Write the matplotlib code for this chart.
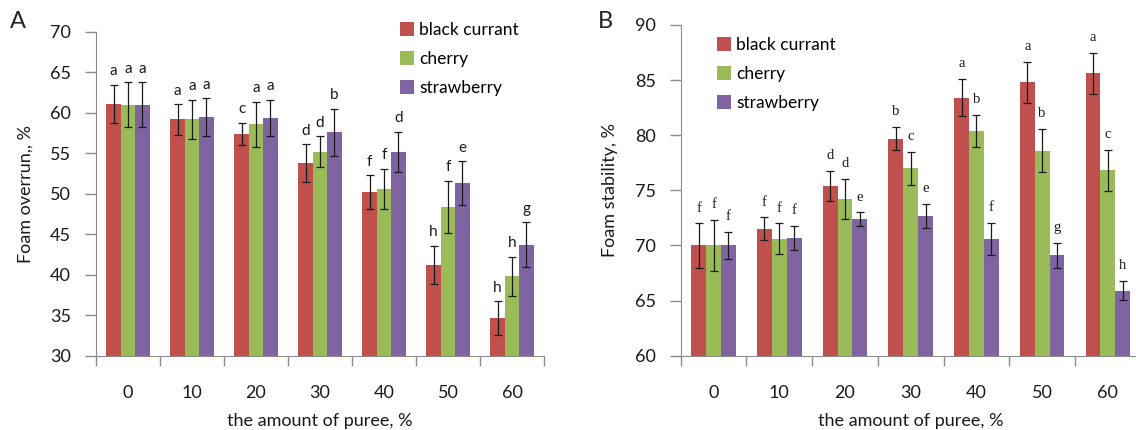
import matplotlib
matplotlib.use("Agg")
import matplotlib.pyplot as plt
import numpy as np

plt.rcParams['font.family'] = ['Lato', 'DejaVu Sans']

# data
puree = ["0", "10", "20", "30", "40", "50", "60"]
fruits = ["black currant", "cherry", "strawberry"]
colors = ["#C0504D", "#9BBB59", "#8064A2"]

# panel A: foam overrun, %
overrun_bc = [61.1, 59.2, 57.4, 53.8, 50.2, 41.2, 34.6]
overrun_ch = [61.0, 59.2, 58.6, 55.2, 50.6, 48.4, 39.8]
overrun_st = [61.0, 59.5, 59.4, 57.6, 55.2, 51.3, 43.7]
overrun_bc_err = [2.4, 1.9, 1.4, 2.3, 2.1, 2.4, 2.1]
overrun_ch_err = [2.8, 2.4, 2.8, 1.9, 2.5, 3.2, 2.4]
overrun_st_err = [2.8, 2.3, 2.2, 2.9, 2.5, 2.7, 2.8]
overrun_bc_lab = ["a", "a", "c", "d", "f", "h", "h"]
overrun_ch_lab = ["a", "a", "a", "d", "f", "f", "h"]
overrun_st_lab = ["a", "a", "a", "b", "d", "e", "g"]

# panel B: foam stability, %
stab_bc = [70.0, 71.5, 75.4, 79.7, 83.4, 84.8, 85.6]
stab_ch = [70.0, 70.6, 74.2, 77.0, 80.4, 78.6, 76.8]
stab_st = [70.0, 70.7, 72.4, 72.7, 70.6, 69.1, 65.9]
stab_bc_err = [2.0, 1.05, 1.35, 1.05, 1.7, 1.85, 1.85]
stab_ch_err = [2.3, 1.4, 1.8, 1.5, 1.45, 1.95, 1.9]
stab_st_err = [1.2, 1.1, 0.6, 1.1, 1.45, 1.1, 0.85]
stab_bc_lab = ["f", "f", "d", "b", "a", "a", "a"]
stab_ch_lab = ["f", "f", "d", "c", "b", "b", "c"]
stab_st_lab = ["f", "f", "e", "e", "f", "g", "h"]

fig = plt.figure(figsize=(11.36, 4.30), dpi=100)
axA = fig.add_axes([0.0845, 0.1728, 0.3944, 0.7528])
axB = fig.add_axes([0.5992, 0.1728, 0.4049, 0.7691])

w = 0.226
x = np.arange(len(puree))


def draw(ax, vals, errs, labs, ylim, ystep, ylabel, lab_off, lab_font, legend_anchor):
    for i in range(3):
        ax.bar(x + (i - 1) * w, vals[i], w, color=colors[i], label=fruits[i],
               yerr=errs[i], capsize=3.2, ecolor="#1a1a1a",
               error_kw=dict(elinewidth=0.9, capthick=0.9), zorder=2)
        for xi, v, e, t in zip(x + (i - 1) * w, vals[i], errs[i], labs[i]):
            ax.text(xi, v + e + lab_off, t, ha="center", va="bottom",
                    fontsize=lab_font[1], family=lab_font[0], color="#1a1a1a")
    ax.set_xlim(-0.5, len(puree) - 0.5)
    ax.set_ylim(*ylim)
    ax.set_yticks(np.arange(ylim[0], ylim[1] + 0.1, ystep))
    ax.set_xticks(x)
    ax.set_xticklabels(puree)
    ax.set_xticks(np.arange(-0.5, len(puree), 1.0), minor=True)
    ax.tick_params(axis="x", which="major", length=0, pad=21, labelsize=13, labelcolor="#1a1a1a")
    ax.tick_params(axis="x", which="minor", length=7.5, width=1, color="#8c8c8c", direction="out")
    ax.tick_params(axis="y", length=8, width=1, color="#8c8c8c", direction="out",
                   pad=10, labelsize=13, labelcolor="#1a1a1a")
    for s in ["top", "right"]:
        ax.spines[s].set_visible(False)
    for s in ["left", "bottom"]:
        ax.spines[s].set_color("#8c8c8c")
    ax.set_xlabel("the amount of puree, %", fontsize=13, labelpad=9, color="#1a1a1a")
    ax.set_ylabel(ylabel, fontsize=13, labelpad=12, color="#1a1a1a")
    ax.legend(loc="upper left", bbox_to_anchor=legend_anchor, bbox_transform=fig.transFigure,
              frameon=False, fontsize=12.5, handlelength=0.8, handleheight=0.8,
              handletextpad=0.3, labelspacing=0.75, borderaxespad=0)


draw(axA, [overrun_bc, overrun_ch, overrun_st],
     [overrun_bc_err, overrun_ch_err, overrun_st_err],
     [overrun_bc_lab, overrun_ch_lab, overrun_st_lab],
     (30, 70), 5, "Foam overrun,, %", 0.8, ("Lato", 11), (0.346, 0.965))
draw(axB, [stab_bc, stab_ch, stab_st],
     [stab_bc_err, stab_ch_err, stab_st_err],
     [stab_bc_lab, stab_ch_lab, stab_st_lab],
     (60, 90), 5, "Foam stability, %", 0.8, ("Liberation Serif", 10.5), (0.625, 0.93))

fig.text(0.009, 0.935, "A", fontsize=17, color="#222222")
fig.text(0.526, 0.935, "B", fontsize=17, color="#222222")

fig.savefig("out.png", dpi=100)
